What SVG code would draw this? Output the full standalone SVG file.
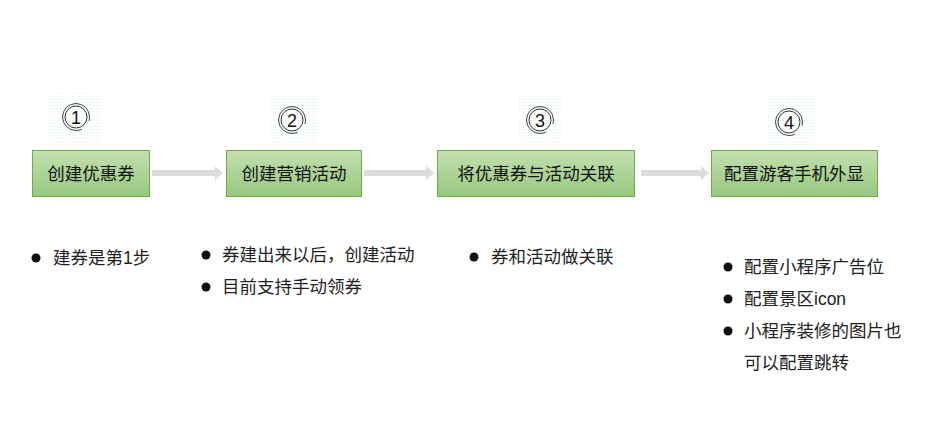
<svg xmlns="http://www.w3.org/2000/svg" width="934" height="443" viewBox="0 0 934 443">
<defs>
<linearGradient id="g" x1="0" y1="0" x2="0" y2="1">
<stop offset="0" stop-color="#c3e0b0"/>
<stop offset="1" stop-color="#97c77f"/>
</linearGradient>
<pattern id="dots" width="3" height="3" patternUnits="userSpaceOnUse">
<rect width="3" height="3" fill="#ffffff"/>
<rect width="1" height="1" fill="#d8f6f8"/>
</pattern>
</defs>
<style>
.box{fill:url(#g);stroke:#70ad47;stroke-width:1}
.bt{font-family:"Noto Sans CJK SC","Liberation Sans",sans-serif;font-size:17.5px;fill:#111;text-anchor:middle}
.lt{font-family:"Liberation Sans","Noto Sans CJK SC",sans-serif;font-size:17.5px;fill:#222}
.num{font-family:"Liberation Sans",sans-serif;font-size:18px;fill:#111;text-anchor:middle}
.ring{fill:none;stroke:#333;stroke-width:1}
.ring2{fill:none;stroke:#444;stroke-width:1;stroke-dasharray:4 11 70}
.halo{fill:url(#dots)}
.arr{fill:#dcdcdc}
</style>
<rect width="934" height="443" fill="#ffffff"/>
<g id="connectors">
<path class="arr" d="M152,170 H215 V166 L223,173 L215,180 V176 H152 Z"/>
<path class="arr" d="M364,170 H426 V166 L434,173 L426,180 V176 H364 Z"/>
<path class="arr" d="M641,170 H701 V166 L709,173 L701,180 V176 H641 Z"/>
</g>
<g id="badge1">
<rect class="halo" x="51" y="92" width="50" height="50"/>
<circle class="ring" cx="76" cy="117" r="11"/>
<circle class="ring2" cx="76" cy="117" r="13.5"/>
<text class="num" x="76" y="123.5">1</text>
</g>
<g id="badge2">
<rect class="halo" x="268" y="96" width="48" height="48"/>
<circle class="ring" cx="292" cy="120" r="11"/>
<circle class="ring2" cx="292" cy="120" r="13.5"/>
<text class="num" x="292" y="126.5">2</text>
</g>
<g id="badge3">
<rect class="halo" x="517" y="96" width="47" height="47"/>
<circle class="ring" cx="540" cy="120" r="11"/>
<circle class="ring2" cx="540" cy="120" r="13.5"/>
<text class="num" x="540" y="126.5">3</text>
</g>
<g id="badge4">
<rect class="halo" x="763" y="96" width="51" height="52"/>
<circle class="ring" cx="789" cy="122" r="11"/>
<circle class="ring2" cx="789" cy="122" r="13.5"/>
<text class="num" x="789" y="128.5">4</text>
</g>
<g id="node1">
<rect class="box" x="32.5" y="150.5" width="117" height="46"/>
<text class="bt" x="91" y="179.5">创建优惠券</text>
</g>
<g id="node2">
<rect class="box" x="226.5" y="150.5" width="135" height="46"/>
<text class="bt" x="294" y="179.5">创建营销活动</text>
</g>
<g id="node3">
<rect class="box" x="437.5" y="150.5" width="197" height="46"/>
<text class="bt" x="536" y="179.5">将优惠券与活动关联</text>
</g>
<g id="node4">
<rect class="box" x="711.5" y="150.5" width="166" height="46"/>
<text class="bt" x="794" y="179.5">配置游客手机外显</text>
</g>
<g id="notes1">
<circle cx="36" cy="258" r="4.5" fill="#111"/>
<text class="lt" x="53" y="264">建券是第1步</text>
</g>
<g id="notes2">
<circle cx="206" cy="255" r="4.5" fill="#111"/>
<text class="lt" x="222" y="261">券建出来以后，创建活动</text>
<circle cx="206" cy="287" r="4.5" fill="#111"/>
<text class="lt" x="222" y="293">目前支持手动领券</text>
</g>
<g id="notes3">
<circle cx="474" cy="257" r="4.5" fill="#111"/>
<text class="lt" x="491" y="263">券和活动做关联</text>
</g>
<g id="notes4">
<circle cx="728" cy="267" r="4.5" fill="#111"/>
<text class="lt" x="744" y="273">配置小程序广告位</text>
<circle cx="728" cy="299" r="4.5" fill="#111"/>
<text class="lt" x="744" y="305">配置景区icon</text>
<circle cx="728" cy="331" r="4.5" fill="#111"/>
<text class="lt" x="744" y="337">小程序装修的图片也</text>
<text class="lt" x="744" y="369">可以配置跳转</text>
</g>
</svg>
